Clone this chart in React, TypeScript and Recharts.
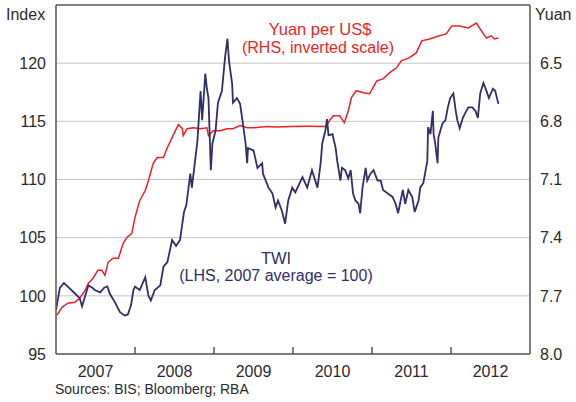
import { LineChart, Line, XAxis, YAxis, CartesianGrid, ReferenceLine } from "recharts";

// TWI (LHS, 2007 average = 100)
const twiDates = [
  2007.0, 2007.05, 2007.1, 2007.18, 2007.24, 2007.3, 2007.33, 2007.37, 2007.41, 2007.46,
  2007.49, 2007.56, 2007.61, 2007.65, 2007.68, 2007.75, 2007.81, 2007.87, 2007.91, 2007.95,
  2007.98, 2008.0, 2008.06, 2008.13, 2008.17, 2008.2, 2008.25, 2008.32, 2008.36, 2008.41,
  2008.47, 2008.52, 2008.57, 2008.62, 2008.65, 2008.7, 2008.72, 2008.79, 2008.83, 2008.85,
  2008.89, 2008.91, 2008.93, 2008.96, 2008.98, 2009.02, 2009.05, 2009.1, 2009.14, 2009.17,
  2009.19, 2009.23, 2009.24, 2009.29, 2009.33, 2009.36, 2009.4, 2009.42, 2009.43, 2009.5,
  2009.55, 2009.61, 2009.62, 2009.69, 2009.74, 2009.78, 2009.81, 2009.86, 2009.9, 2009.94,
  2009.99, 2010.03, 2010.07, 2010.12, 2010.18, 2010.24, 2010.31, 2010.35, 2010.37, 2010.41,
  2010.43, 2010.45, 2010.5, 2010.54, 2010.56, 2010.6, 2010.62, 2010.66, 2010.7, 2010.73,
  2010.76, 2010.79, 2010.83, 2010.85, 2010.88, 2010.92, 2010.94, 2010.98, 2011.02, 2011.07,
  2011.11, 2011.14, 2011.2, 2011.26, 2011.3, 2011.33, 2011.39, 2011.42, 2011.46, 2011.51,
  2011.54, 2011.59, 2011.61, 2011.65, 2011.7, 2011.71, 2011.74, 2011.77, 2011.78, 2011.8,
  2011.83, 2011.84, 2011.89, 2011.93, 2011.96, 2011.99, 2012.03, 2012.06, 2012.08, 2012.11,
  2012.15, 2012.18, 2012.22, 2012.27, 2012.31, 2012.34, 2012.37, 2012.41, 2012.45, 2012.48,
  2012.53, 2012.56, 2012.6,
];
const twiValues = [
  98.8, 100.7, 101.1, 100.6, 100.2, 99.8, 99.1, 100.0, 100.9, 100.7,
  100.5, 100.3, 100.7, 100.8, 100.2, 99.4, 98.6, 98.3, 98.4, 99.2,
  100.5, 100.8, 100.5, 101.6, 100.0, 99.6, 100.5, 100.9, 102.5, 102.9,
  104.8, 104.3, 104.8, 107.2, 107.8, 110.5, 109.3, 113.3, 117.6, 115.1,
  119.1, 117.8, 117.0, 110.8, 113.1, 114.2, 116.6, 117.6, 120.5, 122.1,
  120.2, 118.2, 116.6, 117.0, 116.5, 115.1, 113.1, 111.4, 112.7, 112.5,
  111.0, 111.4, 110.5, 109.3, 108.8, 107.6, 108.2, 107.3, 106.2, 108.2,
  109.3, 108.9, 109.5, 110.2, 109.3, 110.8, 109.3, 111.4, 113.1, 114.2,
  115.2, 113.8, 113.9, 112.7, 111.6, 109.9, 111.0, 110.8, 110.1, 110.8,
  108.8, 108.2, 107.9, 107.1, 109.3, 111.0, 109.9, 110.5, 110.8, 109.9,
  109.9, 109.1, 108.8, 108.5, 107.9, 107.1, 109.1, 107.9, 109.1, 108.5,
  107.2, 108.2, 109.3, 109.7, 111.6, 114.5, 113.9, 115.9, 113.9, 113.1,
  111.4, 113.6, 114.8, 115.1, 116.2, 117.0, 117.4, 115.9, 115.1, 114.4,
  115.3, 115.7, 116.2, 116.2, 115.9, 115.3, 117.4, 118.3, 117.6, 117.0,
  117.8, 117.6, 116.5,
];

// Yuan per US$ (RHS, inverted scale)
const yuanDates = [
  2007.01, 2007.08, 2007.15, 2007.24, 2007.3, 2007.37, 2007.41, 2007.47, 2007.53, 2007.58,
  2007.62, 2007.66, 2007.72, 2007.79, 2007.85, 2007.9, 2007.96, 2008.0, 2008.06, 2008.13,
  2008.17, 2008.23, 2008.28, 2008.36, 2008.41, 2008.47, 2008.51, 2008.55, 2008.6, 2008.61,
  2008.66, 2008.74, 2008.83, 2008.91, 2008.93, 2008.99, 2009.08, 2009.16, 2009.24, 2009.33,
  2009.42, 2009.5, 2009.67, 2009.8, 2009.97, 2010.2, 2010.42, 2010.46, 2010.51, 2010.59,
  2010.65, 2010.7, 2010.74, 2010.8, 2010.89, 2010.97, 2011.06, 2011.14, 2011.22, 2011.31,
  2011.37, 2011.47, 2011.56, 2011.63, 2011.73, 2011.85, 2011.94, 2012.01, 2012.11, 2012.22,
  2012.32, 2012.41, 2012.45, 2012.51, 2012.55, 2012.6,
];
const yuanValues = [
  7.8, 7.758, 7.738, 7.733, 7.712, 7.671, 7.635, 7.609, 7.568, 7.568,
  7.594, 7.527, 7.506, 7.506, 7.429, 7.398, 7.378, 7.295, 7.208, 7.157,
  7.105, 7.018, 6.987, 6.987, 6.935, 6.884, 6.849, 6.817, 6.838, 6.874,
  6.838, 6.833, 6.838, 6.833, 6.874, 6.848, 6.848, 6.838, 6.838, 6.822,
  6.833, 6.833, 6.827, 6.829, 6.827, 6.826, 6.827, 6.797, 6.771, 6.771,
  6.807, 6.745, 6.678, 6.642, 6.653, 6.658, 6.591, 6.581, 6.55, 6.524,
  6.488, 6.473, 6.447, 6.385, 6.375, 6.359, 6.349, 6.308, 6.308, 6.318,
  6.293, 6.349, 6.37, 6.359, 6.375, 6.37,
];

const yearTicks = [2007.5, 2008.5, 2009.5, 2010.5, 2011.5, 2012.5];
const indexTicks = [95, 100, 105, 110, 115, 120];
const yuanTicks = [6.5, 6.8, 7.1, 7.4, 7.7, 8.0];

const twiData = twiDates.map((t, i) => ({ t, v: twiValues[i] }));
const yuanData = yuanDates.map((t, i) => ({ t, v: yuanValues[i] }));

const W = 576;
const H = 402;
const LEFT_W = 56;
const RIGHT_W = 46;
const PLOT_BOTTOM = 354;
const HALF_YEAR = (W - LEFT_W - RIGHT_W) / 12;

const FONT = "'Liberation Sans', Arial, sans-serif";
const INK = "#2a2a2a";
const AXIS = "#555555";
const NAVY = "#2e2f6b";
const RED = "#ee1f26";

function YearTick(props: any) {
  const { x, payload } = props;
  const bx = x - HALF_YEAR;
  return (
    <g>
      {payload.value > 2008 && (
        <line x1={bx} x2={bx} y1={PLOT_BOTTOM} y2={PLOT_BOTTOM - 7} stroke={AXIS} strokeWidth={1.5} />
      )}
      <text x={x} y={377} textAnchor="middle" fill={INK} fontSize={16} fontFamily={FONT}>
        {Math.floor(payload.value)}
      </text>
    </g>
  );
}

export default function App() {
  return (
    <div style={{ position: "absolute", left: 0, top: 0, width: W, height: H, background: "#fff" }}>
      <LineChart width={W} height={H} margin={{ top: 5, right: 0, bottom: 0, left: 0 }}>
        <CartesianGrid yAxisId="l" vertical={false} stroke="#c4c4c4" strokeWidth={1} horizontalValues={[100, 105, 110, 115, 120]} />
        <XAxis
          dataKey="t"
          type="number"
          domain={[2007, 2013]}
          ticks={yearTicks}
          allowDataOverflow
          height={48}
          tickLine={false}
          axisLine={{ stroke: AXIS, strokeWidth: 1.5 }}
          tick={<YearTick />}
        />
        <YAxis
          yAxisId="l"
          orientation="left"
          domain={[95, 125]}
          ticks={indexTicks}
          width={LEFT_W}
          tickLine={false}
          tickMargin={4}
          axisLine={{ stroke: AXIS, strokeWidth: 1.5 }}
          tick={{ fill: INK, fontSize: 16, fontFamily: FONT }}
        />
        <YAxis
          yAxisId="r"
          orientation="right"
          domain={[6.2, 8.0]}
          reversed
          ticks={yuanTicks}
          width={RIGHT_W}
          tickLine={false}
          tickMargin={4}
          tickFormatter={(v: number) => v.toFixed(1)}
          axisLine={{ stroke: AXIS, strokeWidth: 1.5 }}
          tick={{ fill: INK, fontSize: 16, fontFamily: FONT, textAnchor: "start" }}
        />
        <ReferenceLine yAxisId="l" y={125} stroke={AXIS} strokeWidth={1.5} />
        <Line
          yAxisId="r"
          data={yuanData}
          dataKey="v"
          type="linear"
          stroke={RED}
          strokeWidth={1.5}
          dot={false}
          isAnimationActive={false}
        />
        <Line
          yAxisId="l"
          data={twiData}
          dataKey="v"
          type="linear"
          stroke={NAVY}
          strokeWidth={1.8}
          dot={false}
          isAnimationActive={false}
        />
      </LineChart>
      <svg width={W} height={H} style={{ position: "absolute", left: 0, top: 0, pointerEvents: "none" }}>
        <g fontFamily={FONT}>
          <text x={6} y={20} fontSize={16} fill={INK}>Index</text>
          <text x={535} y={20} fontSize={16} fill={INK}>Yuan</text>
          <text x={320} y={35} fontSize={16.5} fill={RED} textAnchor="middle">Yuan per US$</text>
          <text x={318} y={53} fontSize={16} fill={RED} textAnchor="middle">(RHS, inverted scale)</text>
          <text x={276} y={264} fontSize={16.5} fill={NAVY} textAnchor="middle">TWI</text>
          <text x={276} y={281} fontSize={16} fill={NAVY} textAnchor="middle">(LHS, 2007 average = 100)</text>
          <text x={55} y={394} fontSize={14} fill={INK}>Sources: BIS; Bloomberg; RBA</text>
        </g>
      </svg>
    </div>
  );
}
